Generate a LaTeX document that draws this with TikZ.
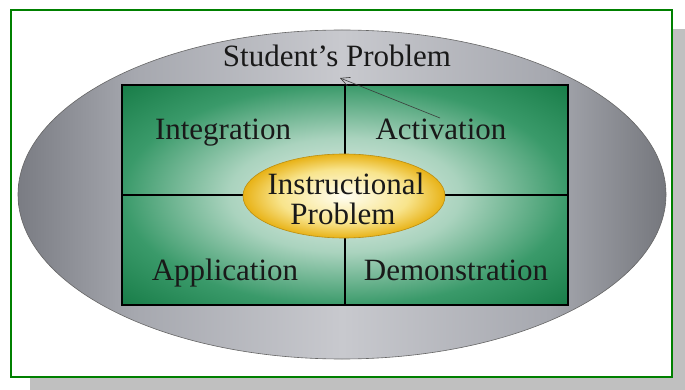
\documentclass[tikz,border=0pt]{standalone}
\usepackage{fontspec}
\setmainfont{Liberation Serif}
\usetikzlibrary{shapes.geometric,arrows.meta}

\definecolor{framegreen}{HTML}{008000}
\definecolor{shadowgray}{HTML}{C0C0C0}
\definecolor{ellg0}{HTML}{7A7C83}
\definecolor{ellg1}{HTML}{A6A8AF}
\definecolor{ellg2}{HTML}{C8C9CE}
\definecolor{ellg3}{HTML}{75777D}
\definecolor{grn0}{HTML}{E8F1EC}
\definecolor{grn1}{HTML}{AAD3BE}
\definecolor{grn2}{HTML}{3A9A6A}
\definecolor{grn3}{HTML}{167B46}
\definecolor{yel0}{HTML}{FFFEF2}
\definecolor{yel1}{HTML}{F8E48C}
\definecolor{yel2}{HTML}{E8B216}
\definecolor{inkgray}{HTML}{3A3A3A}

% gray band: dark at the sides, light through the middle
\pgfdeclarehorizontalshading{grayband}{100bp}{color(0bp)=(ellg0); color(25bp)=(ellg0);
  color(34bp)=(ellg1); color(50bp)=(ellg2); color(66bp)=(ellg1); color(75bp)=(ellg3); color(100bp)=(ellg3)}
% green glow: pale centre fading to deep green
\pgfdeclareradialshading{greenglow}{\pgfpoint{0bp}{0bp}}{color(0bp)=(grn0); color(13bp)=(grn1);
  color(25bp)=(grn2); color(36bp)=(grn3); color(50bp)=(grn3)}
% yellow glow for the inner ellipse
\pgfdeclareradialshading{yellowglow}{\pgfpoint{0bp}{0bp}}{color(0bp)=(yel0); color(16bp)=(yel1);
  color(25bp)=(yel2); color(50bp)=(yel2)}

\tikzset{
  lbl/.style={font=\fontsize{31}{33}\selectfont, text=black!90, inner sep=0pt, anchor=base},
  outerell/.style={ellipse, draw=black!60, line width=0.6pt, shading=grayband, inner sep=0pt},
  greenbox/.style={rectangle, draw=black, line width=2pt, shading=greenglow, inner sep=0pt},
  divider/.style={draw=black, line width=2pt},
  yellowell/.style={ellipse, draw=yel2!80!black, line width=0.6pt, shading=yellowglow, inner sep=0pt},
  pointer/.style={draw=inkgray, line width=0.6pt, -{Straight Barb[length=9pt,width=9pt]}}
}

\begin{document}
\begin{tikzpicture}[x=1pt,y=-1pt]
  \useasboundingbox (0,0) rectangle (685,390);

  % drop shadow and framed panel
  \fill[shadowgray] (30,29) rectangle (685,390);
  \draw[framegreen, fill=white, line width=1.2pt] (11,10) rectangle (672,377);

  % outer ellipse and the four quadrants
  \node[outerell, minimum width=648pt, minimum height=329pt] (outer) at (342,194.5) {};
  \node[greenbox, minimum width=446pt, minimum height=220pt] (box) at (345,195) {};
  \draw[divider] (box.north) -- (box.south);
  \draw[divider] (box.west) -- (box.east);

  % central ellipse
  \node[yellowell, minimum width=202pt, minimum height=84pt] (instr) at (344,196) {};

  % labels
  \node[lbl] (student) at (337,67) {Student’s Problem};
  \node[lbl] (integ) at (223,140) {Integration};
  \node[lbl] (activ) at (441,140) {Activation};
  \node[lbl] (appl) at (225,280) {Application};
  \node[lbl] (demo) at (456,280) {Demonstration};
  \node[lbl] (instrA) at (346,195) {Instructional};
  \node[lbl] (instrB) at (343,225) {Problem};

  % pointer up to the outer label
  \coordinate (ptail) at (440,118);
  \coordinate (ptip) at (340,78);
  \draw[pointer] (ptail) -- (ptip);
\end{tikzpicture}
\end{document}
